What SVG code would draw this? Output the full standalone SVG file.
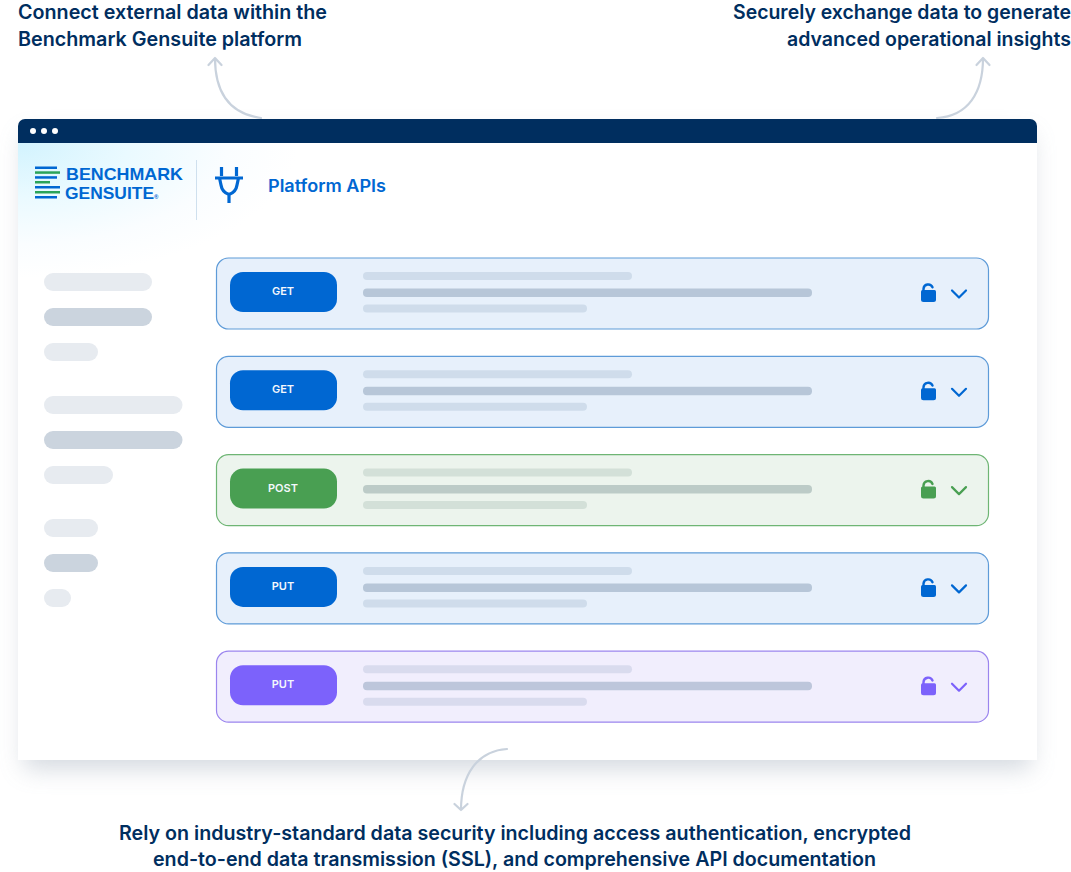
<svg xmlns="http://www.w3.org/2000/svg" width="1071" height="872" viewBox="0 0 1071 872">
<style>
.cap{font-family:Inter,"Liberation Sans",sans-serif;font-size:19.500px;font-weight:600;fill:#002e5f}
.arrow{fill:none;stroke:#c9d2dd;stroke-width:2.200;stroke-linecap:round;stroke-linejoin:round}
.logo{font-family:"Liberation Sans",sans-serif;font-weight:700;fill:#0067d2}
.side1{fill:#e7ebf0}.side2{fill:#cbd4de}
.badge{font-family:Inter,"Liberation Sans",sans-serif;font-size:11px;font-weight:600;fill:#f4f8fd;text-anchor:middle}
.icon{fill:none;stroke-width:2.200;stroke-linecap:round;stroke-linejoin:round}
.blue .card{fill:#e7f0fb;stroke:#5e9bd8}.blue .badge-bg{fill:#0067d2}.blue .icon{stroke:#0067d2}.blue use{fill:#0067d2;stroke:#0067d2}
.blue .l1,.blue .l3{fill:#cfdceb}.blue .l2{fill:#b7c6d8}
.green .card{fill:#ecf4ed;stroke:#6eb574}.green .badge-bg{fill:#499f52}.green .icon{stroke:#499f52}.green use{fill:#499f52;stroke:#499f52}
.green .l1,.green .l3{fill:#d3e0d8}.green .l2{fill:#bccbc7}
.purple .card{fill:#f1eefd;stroke:#9b85ee}.purple .badge-bg{fill:#7c62fb}.purple .icon{stroke:#7c62fb}.purple use{fill:#7c62fb;stroke:#7c62fb}
.purple .l1,.purple .l3{fill:#d9dbee}.purple .l2{fill:#bdc6db}
.card{stroke-width:1.200}
</style>
<defs>
<filter id="sh" x="-10%" y="-10%" width="120%" height="125%"><feGaussianBlur stdDeviation="12"/></filter>
<radialGradient id="glow" cx="0" cy="0" r="1"><stop offset="0" stop-color="#d2f3fe"/><stop offset=".4" stop-color="#eafaff"/><stop offset=".75" stop-color="#fafdff"/><stop offset="1" stop-color="#fff"/></radialGradient>
<g id="lock"><path stroke="none" d="M-7.500 -4.500a1.500 1.500 0 0 1 1.500 -1.500h12a1.500 1.500 0 0 1 1.500 1.500v8a2.500 2.500 0 0 1 -2.500 2.500h-10a2.500 2.500 0 0 1 -2.500 -2.500z"/><path fill="none" stroke-width="2.400" stroke-linecap="round" d="M-5 -5v-2.200a4.700 4.700 0 0 1 9 -1.500"/></g>
</defs>
<rect x="24" y="135" width="1007" height="634" fill="#9aa6b5" opacity=".42" filter="url(#sh)"/>
<g id="window">
<rect x="18" y="140" width="1019" height="620" fill="#fff"/>
<rect x="18" y="143" width="280" height="135" fill="url(#glow)"/>
<path d="M18 143V126a7 7 0 0 1 7-7H1030a7 7 0 0 1 7 7V143z" fill="#002e5f"/>
<circle cx="33" cy="131" r="3" fill="#fff"/><circle cx="44" cy="131" r="3" fill="#fff"/><circle cx="55" cy="131" r="3" fill="#fff"/>
<rect x="196" y="160" width="1" height="60" fill="#cfe0ee"/>
</g>
<g id="logo">
<rect x="35" y="166.500" width="22" height="2.500" fill="#0067d2"/>
<rect x="35" y="171.300" width="25" height="2.500" fill="#2aa35a"/>
<rect x="35" y="176.200" width="22" height="2.500" fill="#0067d2"/>
<rect x="35" y="181" width="15" height="2.500" fill="#2aa35a"/>
<rect x="35" y="186" width="25" height="2.500" fill="#0067d2"/>
<rect x="35" y="191" width="25" height="2.500" fill="#2aa35a"/>
<rect x="35" y="196" width="22" height="2.500" fill="#0067d2"/>
<text class="logo" x="66" y="179.500" font-size="16.400" textLength="117" lengthAdjust="spacingAndGlyphs">BENCHMARK</text>
<text class="logo" x="65" y="198.500" font-size="16.400" textLength="89" lengthAdjust="spacingAndGlyphs">GENSUITE</text>
<text class="logo" x="154" y="198.500" font-size="6">®</text>
</g>
<g id="header">
<g fill="none" stroke="#0067d2" stroke-width="3.200"><path d="M221.500 167v9M236.500 167v9"/><path d="M215 178H243M219.500 178l1.500 7q1 7 8 9.500q7-2.500 8-9.500l1.500-7M229 194v9"/></g>
<text x="268" y="192" font-family="Inter,'Liberation Sans',sans-serif" font-size="17" font-weight="600" fill="#0067d2" textLength="118" lengthAdjust="spacingAndGlyphs">Platform APIs</text>
</g>
<g id="sidebar">
<rect class="side1" x="44" y="273" width="108" height="18" rx="9"/>
<rect class="side2" x="44" y="308" width="108" height="18" rx="9"/>
<rect class="side1" x="44" y="343" width="54" height="18" rx="9"/>
<rect class="side1" x="44" y="396" width="138.500" height="18" rx="9"/>
<rect class="side2" x="44" y="431" width="138.500" height="18" rx="9"/>
<rect class="side1" x="44" y="466" width="69" height="18" rx="9"/>
<rect class="side1" x="44" y="519" width="54" height="18" rx="9"/>
<rect class="side2" x="44" y="554" width="54" height="18" rx="9"/>
<rect class="side1" x="44" y="589" width="27" height="18" rx="9"/>
</g>
<g id="row1" class="blue" transform="translate(0,0)">
<rect class="card" x="216.500" y="258" width="772" height="71" rx="12"/><rect class="badge-bg" x="230" y="272" width="107" height="40" rx="13"/><text class="badge" x="283" y="295">GET</text>
<rect class="l1" x="363" y="272" width="269" height="8" rx="4"/><rect class="l2" x="363" y="288.500" width="449" height="8.500" rx="4"/><rect class="l3" x="363" y="304.500" width="224" height="8" rx="4"/>
<use href="#lock" x="928.500" y="296"/><path class="icon" d="M952 290.500l7 7 7-7"/>
</g>
<g id="row2" class="blue" transform="translate(0,98.300)">
<rect class="card" x="216.500" y="258" width="772" height="71" rx="12"/><rect class="badge-bg" x="230" y="272" width="107" height="40" rx="13"/><text class="badge" x="283" y="295">GET</text>
<rect class="l1" x="363" y="272" width="269" height="8" rx="4"/><rect class="l2" x="363" y="288.500" width="449" height="8.500" rx="4"/><rect class="l3" x="363" y="304.500" width="224" height="8" rx="4"/>
<use href="#lock" x="928.500" y="296"/><path class="icon" d="M952 290.500l7 7 7-7"/>
</g>
<g id="row3" class="green" transform="translate(0,196.600)">
<rect class="card" x="216.500" y="258" width="772" height="71" rx="12"/><rect class="badge-bg" x="230" y="272" width="107" height="40" rx="13"/><text class="badge" x="283" y="295">POST</text>
<rect class="l1" x="363" y="272" width="269" height="8" rx="4"/><rect class="l2" x="363" y="288.500" width="449" height="8.500" rx="4"/><rect class="l3" x="363" y="304.500" width="224" height="8" rx="4"/>
<use href="#lock" x="928.500" y="296"/><path class="icon" d="M952 290.500l7 7 7-7"/>
</g>
<g id="row4" class="blue" transform="translate(0,294.900)">
<rect class="card" x="216.500" y="258" width="772" height="71" rx="12"/><rect class="badge-bg" x="230" y="272" width="107" height="40" rx="13"/><text class="badge" x="283" y="295">PUT</text>
<rect class="l1" x="363" y="272" width="269" height="8" rx="4"/><rect class="l2" x="363" y="288.500" width="449" height="8.500" rx="4"/><rect class="l3" x="363" y="304.500" width="224" height="8" rx="4"/>
<use href="#lock" x="928.500" y="296"/><path class="icon" d="M952 290.500l7 7 7-7"/>
</g>
<g id="row5" class="purple" transform="translate(0,393.200)">
<rect class="card" x="216.500" y="258" width="772" height="71" rx="12"/><rect class="badge-bg" x="230" y="272" width="107" height="40" rx="13"/><text class="badge" x="283" y="295">PUT</text>
<rect class="l1" x="363" y="272" width="269" height="8" rx="4"/><rect class="l2" x="363" y="288.500" width="449" height="8.500" rx="4"/><rect class="l3" x="363" y="304.500" width="224" height="8" rx="4"/>
<use href="#lock" x="928.500" y="296"/><path class="icon" d="M952 290.500l7 7 7-7"/>
</g>
<g id="connectors">
<path class="arrow" d="M261 118C232 114 215 95 215 58M208.500 65L215 58L221.500 65"/>
<path class="arrow" d="M937 118C968 116 983 93 983 58M976.500 65L983 58L989.500 65"/>
<path class="arrow" d="M507 749C477 751 461 775 461 810M454.500 804L461 810L467.500 804"/>
</g>
<g id="captions">
<text class="cap" x="18" y="19" textLength="309" lengthAdjust="spacingAndGlyphs">Connect external data within the</text>
<text class="cap" x="18" y="46" textLength="284" lengthAdjust="spacingAndGlyphs">Benchmark Gensuite platform</text>
<text class="cap" x="733" y="19" textLength="338" lengthAdjust="spacingAndGlyphs">Securely exchange data to generate</text>
<text class="cap" x="787" y="46" textLength="284" lengthAdjust="spacingAndGlyphs">advanced operational insights</text>
<text class="cap" x="119" y="840" textLength="792" lengthAdjust="spacingAndGlyphs">Rely on industry-standard data security including access authentication, encrypted</text>
<text class="cap" x="153" y="866" textLength="723" lengthAdjust="spacingAndGlyphs">end-to-end data transmission (SSL), and comprehensive API documentation</text>
</g>
</svg>
